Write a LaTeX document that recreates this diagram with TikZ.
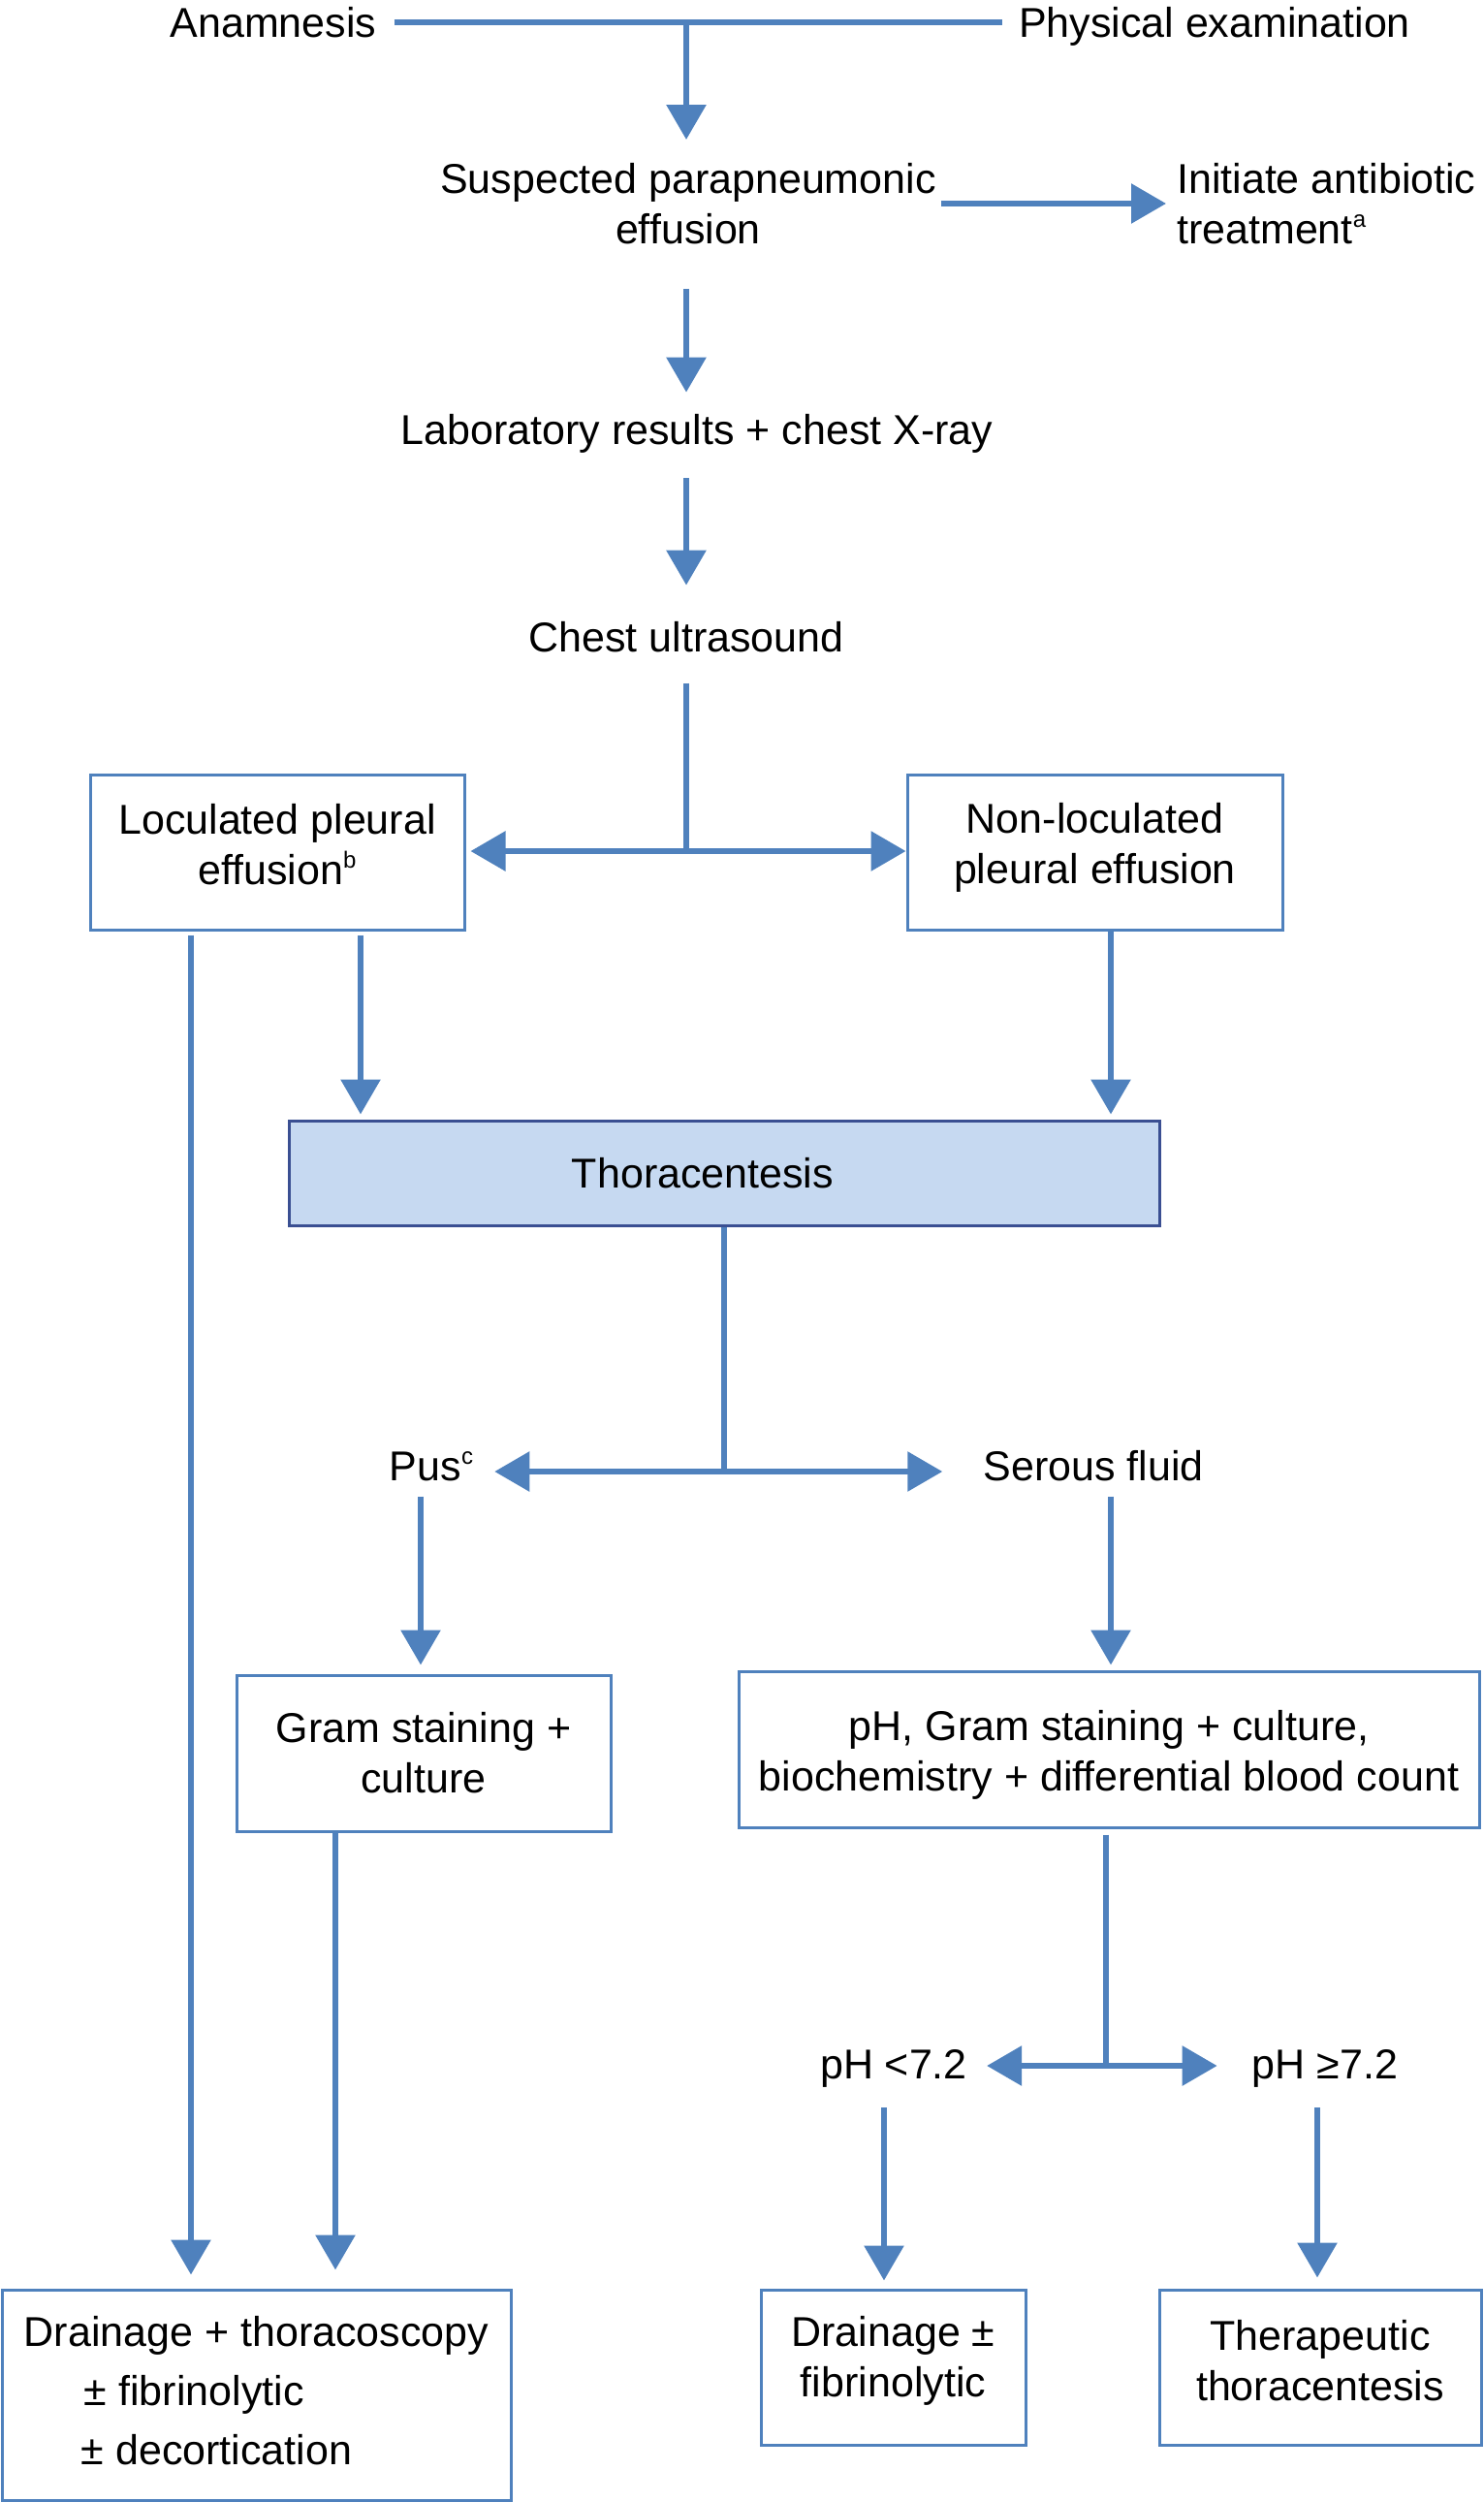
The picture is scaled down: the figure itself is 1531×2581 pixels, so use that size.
\documentclass[tikz,border=0pt]{standalone}
\usepackage{fontspec}
\setmainfont{Liberation Sans}
\usetikzlibrary{arrows.meta}
\definecolor{flowblue}{HTML}{4F81BD}
\definecolor{thoraedge}{HTML}{3A4F92}
\definecolor{thorafill}{HTML}{C6D9F1}
\newcommand{\sups}[1]{\raisebox{17pt}{\fontsize{24}{24}\selectfont #1}}
\newcommand{\lowpad}[1]{\rule[-#1]{0pt}{#1}}
\begin{document}
\begin{tikzpicture}[x=1pt,y=-1pt,
    every node/.style={font=\fontsize{43}{52}\selectfont,align=center,inner sep=0pt},
    link/.style={flowblue,line width=6pt},
    arr/.style={link,-{Triangle[width=40pt,length=36pt]}},
    darr/.style={link,{Triangle[width=40pt,length=36pt]}-{Triangle[width=40pt,length=36pt]}},
    box/.style={draw=flowblue,line width=3pt,minimum height=160pt}]
\useasboundingbox (0,0) rectangle (1531,2581);
\node[anchor=base] (anam) at (282,38) {Anamnesis};
\node[anchor=base] (phys) at (1253,38) {Physical examination};
\node[anchor=north] (susp) at (710,168) {Suspected parapneumonic\\effusion};
\node[anchor=north west,align=left] (init) at (1214,168) {Initiate antibiotic\\treatment\sups{a}};
\node[anchor=base] (lab) at (719,458) {Laboratory results + chest X-ray};
\node[anchor=base] (chest) at (708,672) {Chest ultrasound};
\node[box,minimum width=386pt] (loc) at (286,879) {Loculated pleural\\effusion\sups{b}\lowpad{16pt}};
\node[box,minimum width=387pt] (nonloc) at (1129.5,879) {Non-loculated\\pleural effusion\lowpad{19pt}};
\node[box,draw=thoraedge,fill=thorafill,minimum width=898pt,minimum height=108pt] (thora) at (747,1210) {Thoracentesis\hspace*{44pt}};
\node[anchor=base] (pus) at (445,1527) {Pus\sups{c}};
\node[anchor=base] (serous) at (1128,1527) {Serous fluid};
\node[box,minimum width=386pt,minimum height=161pt] (gram) at (437,1808.5) {Gram staining +\\culture};
\node[box,minimum width=764pt,minimum height=161pt] (ph) at (1144,1804.5) {\rule{0pt}{42pt}pH, Gram staining + culture,\\biochemistry + differential blood count};
\node[anchor=base] (phlt) at (922,2144) {pH <7.2};
\node[anchor=base] (phge) at (1367,2144) {pH ≥7.2};
\node[box,align=left,minimum width=525pt,minimum height=217pt] (drain) at (264.5,2470.5) {Drainage + thoracoscopy\\[9pt]\hspace*{62pt}± fibrinolytic\\[9pt]\hspace*{59pt}± decortication\lowpad{10pt}};
\node[box,minimum width=273pt] (drainfib) at (921.5,2442) {Drainage ±\\fibrinolytic\lowpad{22pt}};
\node[box,minimum width=332pt] (thera) at (1362,2442) {Therapeutic\\thoracentesis\lowpad{14pt}};
\coordinate (c1) at (708,23);
\coordinate (split1) at (708,878);
\coordinate (split2) at (747,1518);
\coordinate (split3) at (1141,2131);
\coordinate (xa) at (197,0);
\coordinate (xb) at (372,0);
\coordinate (xc) at (1146,0);
\coordinate (xe) at (434,0);
\coordinate (xf) at (346,0);
\coordinate (xh) at (912,0);
\coordinate (xi) at (1359,0);
\draw[link,shorten <=18pt,shorten >=17pt] (anam.east) -- (anam.east -| phys.west);
\draw[arr,shorten >=24pt] (c1) -- (c1 |- susp.north);
\draw[arr,shorten <=5pt,shorten >=11pt] (susp.east) -- (susp.east -| init.west);
\draw[arr,shorten <=46pt,shorten >=22pt] (c1 |- susp.south) -- (c1 |- lab.north);
\draw[arr,shorten <=26pt,shorten >=37pt] (c1 |- lab.south) -- (c1 |- chest.north);
\draw[link,shorten <=32pt] (c1 |- chest.south) -- (split1);
\draw[darr,shorten <=5pt] (loc.east |- split1) -- (nonloc.west |- split1);
\draw[arr,shorten <=4pt,shorten >=14pt] (xa |- loc.south) -- (xa |- drain.north);
\draw[arr,shorten <=4pt,shorten >=5pt] (xb |- loc.south) -- (xb |- thora.north);
\draw[arr,shorten >=5pt] (xc |- nonloc.south) -- (xc |- thora.north);
\draw[link] (split2 |- thora.south) -- (split2);
\draw[darr,shorten <=22pt,shorten >=42pt] (split2 -| pus.east) -- (split2 -| serous.west);
\draw[arr,shorten <=16pt,shorten >=9pt] (xe |- pus.south) -- (xe |- gram.north);
\draw[arr,shorten <=16pt,shorten >=5pt] (xc |- serous.south) -- (xc |- ph.north);
\draw[arr,shorten >=19pt] (xf |- gram.south) -- (xf |- drain.north);
\draw[link,shorten <=6pt] (split3 |- ph.south) -- (split3);
\draw[darr,shorten <=20pt,shorten >=36pt] (split3 -| phlt.east) -- (split3 -| phge.west);
\draw[arr,shorten <=21pt,shorten >=8pt] (xh |- phlt.south) -- (xh |- drainfib.north);
\draw[arr,shorten <=21pt,shorten >=11pt] (xi |- phge.south) -- (xi |- thera.north);
\end{tikzpicture}
\end{document}
